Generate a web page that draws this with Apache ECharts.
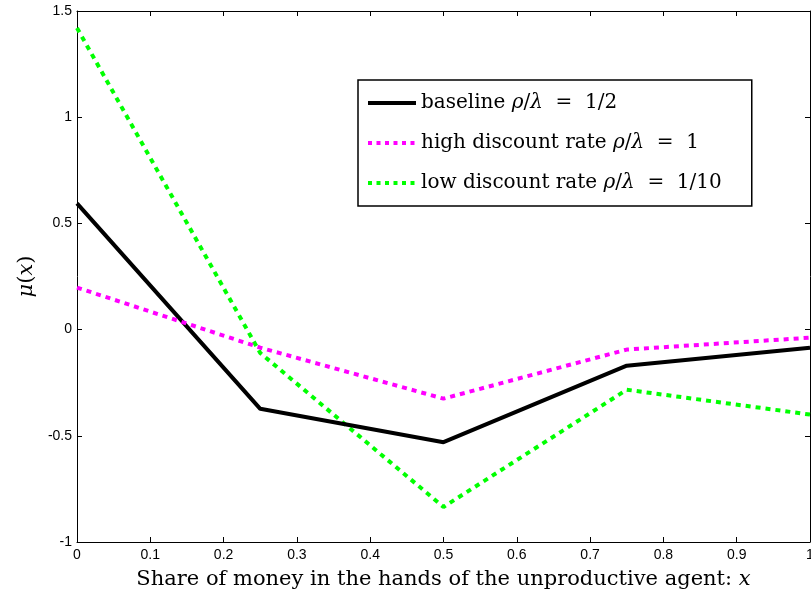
<!DOCTYPE html>
<html><head><meta charset="utf-8">
<script src="https://cdn.jsdelivr.net/npm/echarts@6/dist/echarts.min.js"></script>
<style>html,body{margin:0;padding:0;background:#fff;overflow:hidden}#c{width:811px;height:590px}</style>
</head><body><div id="c"></div>
<script>
const xValues = [0, 0.25, 0.5, 0.75, 1];
const baseline = [0.594, -0.373, -0.53, -0.17, -0.085];
const highDiscount = [0.198, -0.085, -0.325, -0.094, -0.038];
const lowDiscount = [1.42, -0.11, -0.835, -0.283, -0.40];
const seriesNames = ['baseline', 'high', 'low'];
const legendTexts = {
  baseline: ['baseline ', '1/2'],
  high: ['high discount rate ', '1'],
  low: ['low discount rate ', '1/10']
};
const pair = arr => xValues.map((x, i) => [x, arr[i]]);
const chart = echarts.init(document.getElementById('c'), null, {renderer: 'canvas'});
const serif = 'DejaVu Serif';
const sans = 'Liberation Sans';
const tickLab = {fontFamily: sans, fontSize: 14, color: '#000'};
const colors = {baseline: '#000', high: '#ff00ff', low: '#00ff00'};
chart.setOption({
  animation: false,
  grid: {left: 77, top: 11, right: 1, bottom: 48, containLabel: false, outerBoundsMode: 'none'},
  xAxis: [{
    type: 'value', min: 0, max: 1, interval: 0.1, position: 'bottom',
    axisLine: {onZero: false, lineStyle: {color: '#000', width: 1}},
    axisTick: {inside: true, length: 5, lineStyle: {color: '#000'}},
    splitLine: {show: false},
    axisLabel: Object.assign({margin: 6, formatter: v => String(+v.toFixed(1))}, tickLab),
    name: 'Share of money in the hands of the unproductive agent: {i|x}',
    nameLocation: 'middle', nameGap: 27,
    nameTextStyle: {fontFamily: serif, fontSize: 21, color: '#000',
      rich: {i: {fontFamily: serif, fontStyle: 'italic', fontSize: 21, color: '#000'}}}
  }, {
    type: 'value', min: 0, max: 1, interval: 0.1, position: 'top',
    axisLine: {onZero: false, lineStyle: {color: '#000', width: 1}},
    axisTick: {inside: true, length: 5, lineStyle: {color: '#000'}},
    axisLabel: {show: false}, splitLine: {show: false}
  }],
  yAxis: [{
    type: 'value', min: -1, max: 1.5, interval: 0.5, position: 'left',
    axisLine: {onZero: false, lineStyle: {color: '#000', width: 1}},
    axisTick: {inside: true, length: 5, lineStyle: {color: '#000'}},
    splitLine: {show: false},
    axisLabel: Object.assign({margin: 5}, tickLab),
    name: '{i|μ}({i|x})', nameLocation: 'middle', nameGap: 40, nameRotate: 90,
    nameTextStyle: {fontFamily: serif, fontSize: 21, color: '#000',
      rich: {i: {fontFamily: serif, fontStyle: 'italic', fontSize: 21, color: '#000'}}}
  }, {
    type: 'value', min: -1, max: 1.5, interval: 0.5, position: 'right',
    axisLine: {onZero: false, lineStyle: {color: '#000', width: 1}},
    axisTick: {inside: true, length: 5, lineStyle: {color: '#000'}},
    axisLabel: {show: false}, splitLine: {show: false}
  }],
  legend: {
    left: 358, top: 80, orient: 'vertical',
    padding: [13, 30, 13, 8],
    borderColor: '#000', borderWidth: 1.5, backgroundColor: '#fff',
    itemWidth: 48, itemHeight: 14, itemGap: 20,
    itemStyle: {opacity: 0},
    data: seriesNames.map(n => ({name: n, itemStyle: {opacity: 0},
      lineStyle: {width: 4, color: colors[n], type: n === 'baseline' ? 'solid' : [4, 4.5]}})),
    formatter: name => legendTexts[name][0] + '{i|ρ}/{i|λ}  =  ' + legendTexts[name][1],
    textStyle: {fontFamily: serif, fontSize: 20, color: '#000',
      rich: {i: {fontFamily: serif, fontStyle: 'italic', fontSize: 20, color: '#000'}}}
  },
  series: [
    {name: 'baseline', type: 'line', data: pair(baseline), showSymbol: false, symbol: 'none',
      lineStyle: {color: '#000', width: 4, type: 'solid'}, itemStyle: {color: '#000'}, z: 3},
    {name: 'high', type: 'line', data: pair(highDiscount), showSymbol: false, symbol: 'none',
      lineStyle: {color: '#ff00ff', width: 4, type: [5, 5]}, itemStyle: {color: '#ff00ff'}, z: 4},
    {name: 'low', type: 'line', data: pair(lowDiscount), showSymbol: false, symbol: 'none',
      lineStyle: {color: '#00ff00', width: 4, type: [5, 5]}, itemStyle: {color: '#00ff00'}, z: 2}
  ]
});
</script></body></html>
